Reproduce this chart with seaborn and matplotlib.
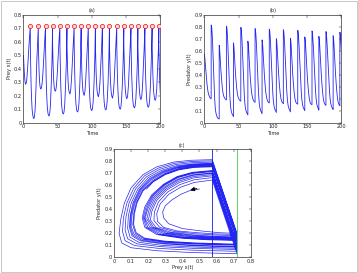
import numpy as np
import pandas as pd
import matplotlib
matplotlib.use("Agg")
import matplotlib.pyplot as plt
from matplotlib.patches import Rectangle
import seaborn as sns

sns.set_style("white")
plt.rcParams['font.family'] = ['DejaVu Sans']

# ---------------- data ----------------
threshold = 0.72        # prey level that triggers the impulse (green line)
pulse_level = 0.576     # prey level right after the impulse (blue line)

# initial segment, before the first impulse
initial_t = [0, 0.5, 1.0, 1.6, 2.3, 3.0, 3.8, 4.8, 6.0, 7.3, 8.6]
initial_prey = [0.50, 0.44, 0.39, 0.34, 0.30, 0.285, 0.29, 0.32, 0.40, 0.51, 0.62]
initial_pred = [0.57, 0.555, 0.525, 0.48, 0.43, 0.38, 0.33, 0.28, 0.24, 0.22, 0.205]

# impulse times (red circles) and predator level when prey reaches threshold
impulse_times = [10.0, 21.7, 32.2, 42.5, 53.2, 63.5, 74.0, 84.2, 94.7, 105.0,
                 115.2, 125.5, 136.2, 146.5, 157.0, 167.0, 177.3, 187.8, 197.6]
pred_at_threshold = [0.20, 0.03, 0.19, 0.05, 0.18, 0.065, 0.17, 0.075, 0.165, 0.085,
                     0.16, 0.09, 0.155, 0.10, 0.15, 0.105, 0.145, 0.11, 0.14]

# time offsets after an impulse for the two alternating kinds of cycle
outer_offsets = [0, 0.4, 0.8, 1.3, 1.9, 2.6, 3.4, 4.2, 5.1, 6.0, 7.0, 8.2, 9.4]
inner_offsets = [0, 0.5, 1.0, 1.6, 2.4, 3.4, 4.4, 5.5, 6.7, 8.0, 9.2]
final_offsets = [0, 0.4, 0.8, 1.3, 1.9, 2.4]

# prey after each impulse
prey_after_impulse = [
    [.575, .45, .35, .25, .17, .10, .06, .04, .03, .045, .10, .25, .45],
    [.575, .47, .39, .32, .27, .25, .255, .29, .37, .49, .60],
    [.575, .455, .355, .26, .18, .115, .075, .055, .05, .065, .12, .265, .455],
    [.575, .468, .386, .314, .26, .236, .234, .268, .352, .478, .594],
    [.575, .458, .36, .268, .19, .127, .088, .07, .065, .08, .133, .272, .46],
    [.575, .466, .382, .308, .25, .222, .213, .245, .332, .466, .587],
    [.575, .461, .365, .276, .2, .139, .101, .084, .08, .094, .146, .279, .464],
    [.575, .465, .38, .305, .244, .214, .202, .232, .318, .458, .582],
    [.575, .464, .369, .283, .208, .148, .111, .095, .09, .105, .155, .285, .468],
    [.575, .464, .378, .302, .238, .206, .192, .222, .305, .447, .576],
    [.575, .465, .371, .286, .212, .153, .117, .1, .095, .11, .161, .288, .47],
    [.575, .463, .376, .298, .232, .198, .182, .21, .29, .435, .57],
    [.575, .467, .374, .29, .218, .159, .123, .106, .10, .116, .167, .292, .473],
    [.575, .462, .374, .295, .228, .193, .177, .198, .275, .42, .562],
    [.575, .469, .378, .297, .226, .166, .13, .115, .11, .125, .175, .297, .477],
    [.575, .461, .372, .292, .224, .186, .171, .189, .262, .41, .556],
    [.575, .47, .38, .30, .23, .17, .135, .12, .115, .13, .18, .30, .48],
    [.575, .46, .37, .29, .22, .18, .165, .18, .25, .40, .55],
    [.575, .47, .38, .30, .23, .19],
]

# predator after each impulse
pred_after_impulse = [
    [.815, .81, .795, .755, .69, .58, .45, .32, .20, .12, .08, .055, .04],
    [.645, .625, .585, .525, .445, .365, .30, .25, .22, .205, .195],
    [.805, .80, .785, .745, .682, .576, .452, .329, .215, .139, .098, .074, .06],
    [.665, .647, .607, .545, .462, .376, .306, .25, .215, .196, .186],
    [.795, .79, .774, .735, .672, .572, .453, .337, .228, .155, .113, .089, .075],
    [.68, .663, .624, .561, .475, .386, .312, .25, .21, .187, .176],
    [.785, .78, .764, .725, .664, .567, .454, .345, .24, .168, .125, .1, .086],
    [.69, .674, .636, .572, .485, .394, .317, .25, .206, .181, .17],
    [.78, .775, .757, .718, .657, .565, .454, .35, .25, .18, .137, .112, .096],
    [.70, .684, .647, .583, .494, .401, .321, .25, .202, .175, .165],
    [.775, .77, .751, .712, .651, .563, .455, .354, .256, .187, .143, .118, .101],
    [.705, .69, .654, .59, .501, .406, .323, .25, .199, .17, .16],
    [.77, .765, .746, .706, .646, .56, .455, .358, .262, .195, .15, .125, .11],
    [.715, .70, .665, .60, .51, .413, .327, .25, .195, .165, .155],
    [.765, .76, .74, .70, .64, .558, .455, .362, .27, .2, .155, .13, .115],
    [.72, .705, .67, .605, .515, .416, .329, .25, .192, .162, .15],
    [.76, .755, .735, .695, .635, .555, .455, .365, .275, .205, .16, .135, .12],
    [.725, .71, .675, .61, .52, .42, .33, .25, .19, .158, .146],
    [.755, .75, .73, .69, .63, .57],
]

# ---------------- assemble the trajectory ----------------
t_all = list(initial_t)
x_all = list(initial_prey)
y_all = list(initial_pred)
n = len(impulse_times)
for k, T in enumerate(impulse_times):
    # point reaching the threshold, just before the impulse
    t_all.append(T); x_all.append(threshold); y_all.append(pred_at_threshold[k])
    if k == n - 1:
        offs = final_offsets
    elif k % 2 == 0:
        offs = outer_offsets
    else:
        offs = inner_offsets
    for s, xv, yv in zip(offs, prey_after_impulse[k], pred_after_impulse[k]):
        t_all.append(T + s); x_all.append(xv); y_all.append(yv)
t_all.append(200.0); x_all.append(0.19); y_all.append(0.57)

df = pd.DataFrame({"t": t_all, "prey": x_all, "pred": y_all})
peaks = pd.DataFrame({"t": impulse_times, "prey": [threshold] * n})

# ---------------- figure ----------------
fig = plt.figure(figsize=(3.58, 2.73), dpi=100)
fs = 3.6
line_col = (0.15, 0.15, 0.95)

def style(ax):
    ax.tick_params(direction="in", top=True, right=True, length=1.8, width=0.35,
                   labelsize=fs, pad=1.2, colors="#222222")
    for sp in ax.spines.values():
        sp.set_linewidth(0.5)
        sp.set_color("#333333")
        sp.set_visible(True)

# (a)
axa = fig.add_axes([0.0656, 0.5505, 0.3827, 0.3955])
sns.lineplot(data=df, x="t", y="prey", sort=False, estimator=None, ax=axa,
             color=line_col, lw=0.6)
sns.scatterplot(data=peaks, x="t", y="prey", ax=axa, s=9, marker="o",
                facecolor="#ffd6d6", edgecolor="red", linewidth=0.5, zorder=3)
axa.set_xlim(0, 200); axa.set_ylim(0, 0.8)
axa.set_xticks([0, 50, 100, 150, 200])
axa.set_yticks(np.arange(0, 0.81, 0.1))
axa.set_yticklabels(["0", "0.1", "0.2", "0.3", "0.4", "0.5", "0.6", "0.7", "0.8"])
axa.set_xlabel("Time", fontsize=fs, labelpad=1)
axa.set_ylabel("Prey x(t)", fontsize=fs, labelpad=1.5)
axa.set_title("(a)", fontsize=fs, pad=2)
style(axa)

# (b)
axb = fig.add_axes([0.5707, 0.5505, 0.3832, 0.3955])
sns.lineplot(data=df, x="t", y="pred", sort=False, estimator=None, ax=axb,
             color=line_col, lw=0.6)
axb.set_xlim(0, 200); axb.set_ylim(0, 0.9)
axb.set_xticks([0, 50, 100, 150, 200])
axb.set_yticks(np.arange(0, 0.91, 0.1))
axb.set_yticklabels(["0", "0.1", "0.2", "0.3", "0.4", "0.5", "0.6", "0.7", "0.8", "0.9"])
axb.set_xlabel("Time", fontsize=fs, labelpad=1)
axb.set_ylabel("Predator y(t)", fontsize=fs, labelpad=1.5)
axb.set_title("(b)", fontsize=fs, pad=2)
style(axb)

# (c)
axc = fig.add_axes([0.3184, 0.0575, 0.3819, 0.3949])
sns.lineplot(data=df, x="prey", y="pred", sort=False, estimator=None, ax=axc,
             color=line_col, lw=0.5)
axc.axvline(pulse_level, color=(0.1, 0.1, 0.85), lw=0.6)
axc.axvline(threshold, color=(0.45, 0.8, 0.45), lw=0.8)
axc.annotate("", xy=(0.43, 0.555), xytext=(0.50, 0.58),
             arrowprops=dict(arrowstyle="-|>", color="black", lw=0.7,
                             mutation_scale=6))
axc.set_xlim(0, 0.8); axc.set_ylim(0, 0.9)
axc.set_xticks(np.arange(0, 0.81, 0.1))
axc.set_xticklabels(["0", "0.1", "0.2", "0.3", "0.4", "0.5", "0.6", "0.7", "0.8"])
axc.set_yticks(np.arange(0, 0.91, 0.1))
axc.set_yticklabels(["0", "0.1", "0.2", "0.3", "0.4", "0.5", "0.6", "0.7", "0.8", "0.9"])
axc.set_xlabel("Prey x(t)", fontsize=fs, labelpad=1)
axc.set_ylabel("Predator y(t)", fontsize=fs, labelpad=1.5)
axc.set_title("(c)", fontsize=fs, pad=2)
style(axc)

fig.patches.append(Rectangle((0.002, 0.002), 0.995, 0.994, transform=fig.transFigure,
                             fill=False, edgecolor="#c8c8c8", lw=0.7))

fig.savefig("out.png", dpi=100)
